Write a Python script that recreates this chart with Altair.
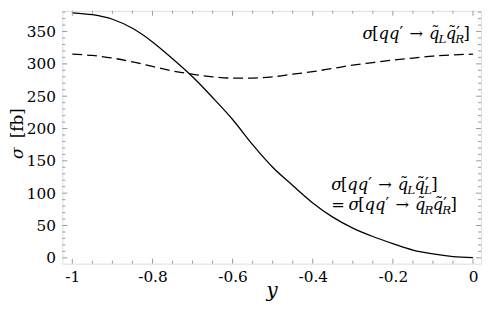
import altair as alt
import pandas as pd

# ---------------- data ----------------
y_grid = [-1.00, -0.95, -0.90, -0.85, -0.80, -0.75, -0.70, -0.65, -0.60, -0.55,
          -0.50, -0.45, -0.40, -0.35, -0.30, -0.25, -0.20, -0.15, -0.10, -0.05, 0.00]
sigma_LL = [379, 376, 369, 355, 334, 308, 280, 248, 214, 175,
            140, 112, 85, 63, 46, 33, 22, 12, 6, 2, 0.5]
sigma_LR = [315, 313, 309, 303, 296, 289, 284, 280, 278, 278,
            280, 284, 288, 293, 298, 302, 306, 309, 312, 314, 315]

x_major = [-1, -0.8, -0.6, -0.4, -0.2, 0]
x_minor = [-0.95, -0.9, -0.85, -0.75, -0.7, -0.65, -0.55, -0.5, -0.45,
           -0.35, -0.3, -0.25, -0.15, -0.1, -0.05]
y_major = [0, 50, 100, 150, 200, 250, 300, 350]
y_minor = [10, 20, 30, 40, 60, 70, 80, 90, 110, 120, 130, 140, 160, 170, 180, 190,
           210, 220, 230, 240, 260, 270, 280, 290, 310, 320, 330, 340, 360, 370, 380]

# ---------------- layout / style ----------------
W, H = 424, 256
XDOM = [-1.025, 0.02]
YDOM = [-9, 382]
FONT = "DejaVu Serif"
FRAME = "#999999"
LFS = 15.5   # tick labels
FS = 16.5    # annotation main size
SUB = 12     # subscripts

xs = alt.Scale(domain=XDOM, nice=False, zero=False)
ys = alt.Scale(domain=YDOM, nice=False, zero=False)

df = pd.DataFrame({"y": y_grid, "LL": sigma_LL, "LR": sigma_LR})

x_axis = alt.Axis(values=x_major, domain=False, ticks=False, grid=False,
                  labelExpr="datum.value == 0 ? '0' : '-' + format(-datum.value, '~g')",
                  labelFont=FONT, labelFontSize=LFS, labelColor="black", labelPadding=6,
                  title="y", titleFont=FONT, titleFontStyle="italic", titleFontWeight="normal",
                  titleFontSize=20, titleColor="black", titleBaseline="alphabetic", titleY=33)
y_axis = alt.Axis(values=y_major, domain=False, ticks=False, grid=False,
                  labelFont=FONT, labelFontSize=LFS, labelColor="black", labelPadding=7,
                  title="")

solid = alt.Chart(df).mark_line(color="black", strokeWidth=1.3, interpolate="monotone").encode(
    x=alt.X("y:Q", scale=xs, axis=x_axis),
    y=alt.Y("LL:Q", scale=ys, axis=y_axis),
)
dashed = alt.Chart(df).mark_line(color="black", strokeWidth=1.3, strokeDash=[10, 5],
                                 interpolate="monotone").encode(
    x=alt.X("y:Q", scale=xs, axis=x_axis),
    y=alt.Y("LR:Q", scale=ys, axis=y_axis),
)

# ---------------- inward frame ticks ----------------
def xticks(vals, ln):
    d = pd.DataFrame({"y": vals})
    bot = alt.Chart(d).mark_rule(color=FRAME, strokeWidth=1).encode(
        x=alt.X("y:Q", scale=xs, axis=x_axis), y=alt.value(H), y2=alt.value(H - ln))
    top = alt.Chart(d).mark_rule(color=FRAME, strokeWidth=1).encode(
        x=alt.X("y:Q", scale=xs, axis=x_axis), y=alt.value(0), y2=alt.value(ln))
    return [bot, top]

def yticks(vals, ln):
    d = pd.DataFrame({"LL": vals})
    left = alt.Chart(d).mark_rule(color=FRAME, strokeWidth=1).encode(
        y=alt.Y("LL:Q", scale=ys, axis=y_axis), x=alt.value(0), x2=alt.value(ln))
    right = alt.Chart(d).mark_rule(color=FRAME, strokeWidth=1).encode(
        y=alt.Y("LL:Q", scale=ys, axis=y_axis), x=alt.value(W), x2=alt.value(W - ln))
    return [left, right]

tick_layers = xticks(x_major, 5) + xticks(x_minor, 3) + yticks(y_major, 5) + yticks(y_minor, 3)

# ---------------- math-like annotations ----------------
EM = {"σ": 0.60, "[": 0.39, "]": 0.39, "q": 0.64, "L": 0.62, "R": 0.70,
      "→": 0.838, "=": 0.838, "′": 0.26}
one = pd.DataFrame({"a": [0]})


def txt(x0, y0, text, dx, dy, size, style="normal", align="left", angle=0):
    return alt.Chart(one).mark_text(
        text=text, dx=dx, dy=dy, fontSize=size, fontStyle=style, font=FONT,
        align=align, baseline="alphabetic", color="black", angle=angle
    ).encode(x=alt.XDatum(x0, scale=xs, axis=x_axis),
             y=alt.YDatum(y0, scale=ys, axis=y_axis))


def formula(x0, y0, tokens):
    out = []
    pos = 0.0
    for tok in tokens:
        kind = tok[0]
        if kind == "it":
            out.append(txt(x0, y0, tok[1], pos, 0, FS, "italic"))
            pos += EM[tok[1]] * FS
        elif kind == "rm":
            out.append(txt(x0, y0, tok[1], pos, 0, FS))
            pos += EM[tok[1]] * FS
        elif kind == "gap":
            pos += tok[1] * FS
        elif kind == "prime":
            out.append(txt(x0, y0, "′", pos, -1, FS))
            pos += EM["′"] * FS
        elif kind == "tq":
            out.append(txt(x0, y0, "q", pos, 0, FS, "italic"))
            out.append(txt(x0, y0, "˜", pos + 0.38 * FS, -1, FS, "normal", "center"))
            pos += EM["q"] * FS
        elif kind == "sub":
            out.append(txt(x0, y0, tok[1], pos - 1, 4, SUB, "italic"))
            pos += EM[tok[1]] * SUB - 1
        elif kind == "psub":
            out.append(txt(x0, y0, "′", pos, -1, FS))
            out.append(txt(x0, y0, tok[1], pos - 1, 4, SUB, "italic"))
            pos += max(EM["′"] * FS, EM[tok[1]] * SUB - 1)
    return out


def process(a, b):
    return [("it", "σ"), ("rm", "["), ("it", "q"), ("it", "q"), ("prime",),
            ("gap", 0.36), ("rm", "→"), ("gap", 0.36),
            ("tq",), ("sub", a), ("tq",), ("psub", b), ("rm", "]")]


ann = []
ann += formula(-0.276, 339, process("L", "R"))
ann += formula(-0.354, 105.5, process("L", "L"))
ann += formula(-0.354, 74.5, [("rm", "="), ("gap", 0.22)] + process("R", "R"))

# y-axis title  "σ [fb]"  (rotated)
ytitle = [
    alt.Chart(one).mark_text(text="σ", fontSize=17, fontStyle="italic", font=FONT,
                             align="left", baseline="alphabetic", angle=270, color="black"
                             ).encode(x=alt.value(-40), y=alt.value(150)),
    alt.Chart(one).mark_text(text="[fb]", fontSize=17, font=FONT,
                             align="left", baseline="alphabetic", angle=270, color="black"
                             ).encode(x=alt.value(-40), y=alt.value(129)),
]

chart = alt.layer(solid, dashed, *tick_layers, *ann, *ytitle).properties(
    width=W, height=H,
    autosize=alt.AutoSizeParams(type="none"),
    padding={"left": 55, "top": 1, "right": 2, "bottom": 42},
).configure_view(stroke=FRAME, strokeWidth=1).configure(background="white")

chart.save("out.html", embed_options={"renderer": "svg", "actions": False})
